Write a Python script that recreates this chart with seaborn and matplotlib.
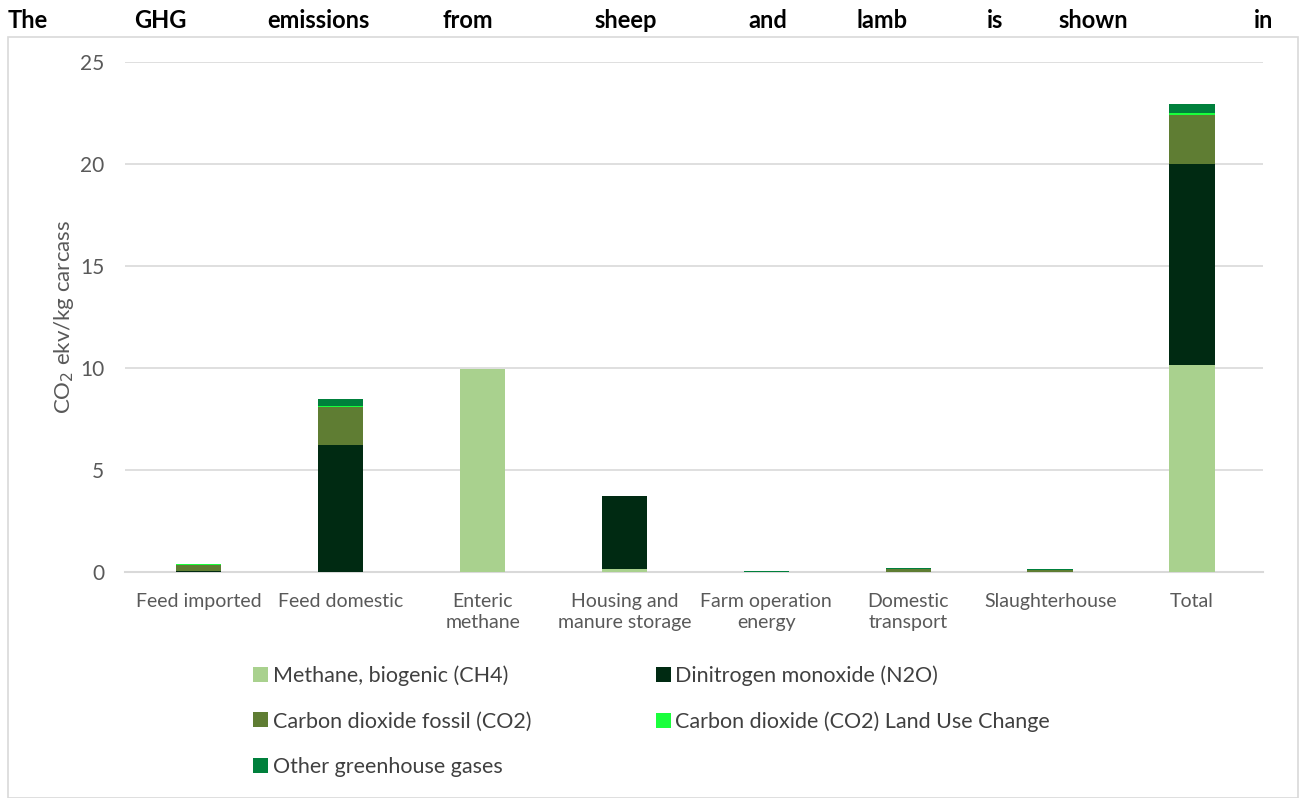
import matplotlib
matplotlib.use("Agg")
import matplotlib.pyplot as plt
import seaborn as sns
import pandas as pd
import numpy as np
from matplotlib.patches import Patch, Rectangle

categories = ["Feed imported", "Feed domestic", "Enteric\nmethane", "Housing and\nmanure storage",
              "Farm operation\nenergy", "Domestic\ntransport", "Slaughterhouse", "Total"]
gases = ["Methane, biogenic (CH4)", "Dinitrogen monoxide (N2O)", "Carbon dioxide fossil (CO2)",
         "Carbon dioxide (CO2) Land Use Change", "Other greenhouse gases"]
ch4 = [0.0, 0.0, 9.95, 0.15, 0.0, 0.0, 0.0, 10.15]
n2o = [0.05, 6.25, 0.0, 3.58, 0.0, 0.0, 0.0, 9.85]
co2_fossil = [0.28, 1.86, 0.0, 0.0, 0.02, 0.15, 0.10, 2.40]
co2_luc = [0.06, 0.02, 0.0, 0.0, 0.0, 0.0, 0.02, 0.10]
other = [0.02, 0.37, 0.0, 0.0, 0.04, 0.03, 0.03, 0.45]
colors = ["#a9d18e", "#002a12", "#5f7d33", "#1aff3c", "#00803c"]

title_words = ["The", "GHG", "emissions", "from", "sheep", "and", "lamb", "is", "shown", "in"]
title_x = [8, 134, 267, 443, 594, 748, 857, 987, 1058, 1254]

sns.set_style("white")
plt.rcParams["font.family"] = ["Lato", "DejaVu Sans"]

fig = plt.figure(figsize=(13.06, 7.98), dpi=100)
ax = fig.add_axes([125 / 1306, 1 - 572 / 798, (1263 - 125) / 1306, (572 - 62) / 798])

layers = [ch4, n2o, co2_fossil, co2_luc, other]
cum = np.cumsum(np.array(layers), axis=0)
# draw from the top layer down so each lower cumulative bar covers the one above
for i in range(len(layers) - 1, -1, -1):
    df = pd.DataFrame({"cat": categories, "val": cum[i]})
    sns.barplot(data=df, x="cat", y="val", order=categories, color=colors[i],
                width=0.32, saturation=1, ax=ax, zorder=3,
                edgecolor="none", linewidth=0)

ax.set_ylim(0, 25)
ax.set_xlim(-0.52, 7.5)
ax.set_yticks([0, 5, 10, 15, 20, 25])
ax.yaxis.grid(True, color="#d9d9d9", linewidth=1.2, zorder=0)
ax.xaxis.grid(False)
for s in ["top", "right", "left"]:
    ax.spines[s].set_visible(False)
ax.spines["bottom"].set_color("#d9d9d9")
ax.spines["bottom"].set_linewidth(1.5)
ax.tick_params(axis="both", length=0, colors="#595959")
ax.tick_params(axis="y", pad=15, labelsize=15)
ax.tick_params(axis="x", pad=15, labelsize=14)
for lbl in ax.get_xticklabels():
    lbl.set_linespacing(1.3)
ax.set_xlabel("")
ax.set_ylabel("CO$_2$ ekv/kg carcass", fontsize=16, color="#595959")
ax.yaxis.set_label_coords(-0.043, 0.5)

handles = [Patch(facecolor=c, edgecolor="none") for c in colors]
order = [0, 2, 4, 1, 3]
fig.legend([handles[i] for i in order], [gases[i] for i in order], ncol=2,
           loc="upper left", bbox_to_anchor=(234 / 1306, 1 - 646 / 798),
           frameon=False, fontsize=15.5, labelcolor="#404040",
           handlelength=0.7, handleheight=0.7, handletextpad=0.2,
           columnspacing=5.8, labelspacing=1.18)

fig.patches.append(Rectangle((8 / 1306, 0), 1290 / 1306, 1 - 37 / 798, transform=fig.transFigure,
                             fill=False, edgecolor="#d9d9d9", linewidth=1.2))

for w, x in zip(title_words, title_x):
    fig.text(x / 1306, 1 - 21 / 798, w, fontsize=17, fontweight="bold",
             ha="left", va="center", color="black")

fig.savefig("out.png", dpi=100)
